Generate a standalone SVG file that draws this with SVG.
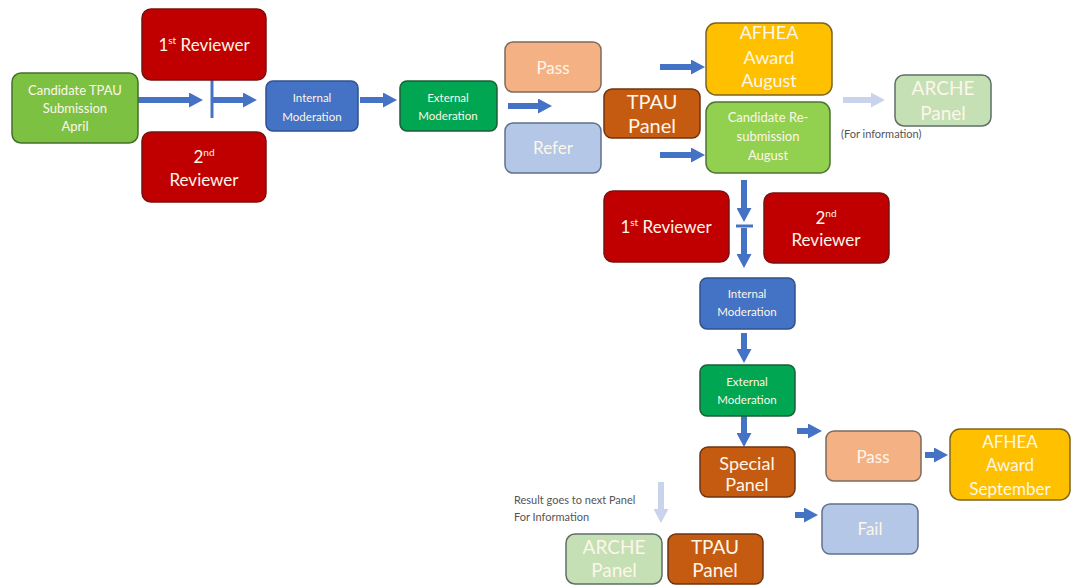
<svg xmlns="http://www.w3.org/2000/svg" width="1071" height="585" viewBox="0 0 1071 585">
<defs>
<style>
text{font-family:Lato,"Liberation Sans",sans-serif;text-anchor:middle;fill:#fdf6ea}
.b{stroke-width:1.5}
.green{fill:#7dc142;stroke:#456f2c}
.red{fill:#c00000;stroke:#7a1010}
.blue{fill:#4472c4;stroke:#2f528f}
.egreen{fill:#00a651;stroke:#1d5e36}
.salmon{fill:#f4b183;stroke:#7e6a5e}
.lblue{fill:#b4c7e7;stroke:#5f7090}
.orange{fill:#c55a11;stroke:#6e3410}
.yellow{fill:#ffc000;stroke:#7c6420}
.lgreen{fill:#92d050;stroke:#4d7430}
.arche{fill:#c5e0b4;stroke:#5f6e66}
.arr{stroke:#4472c4;stroke-width:6;fill:none;marker-end:url(#ah)}
.larr{stroke:#c9d4ec;stroke-width:6;fill:none;marker-end:url(#lah)}
.tick{stroke:#4472c4;stroke-width:3}
.note{fill:#555;text-anchor:start;font-size:11px}
</style>
<marker id="ah" markerUnits="userSpaceOnUse" markerWidth="14" markerHeight="15" refX="2" refY="7.5" orient="auto"><path d="M0,0 L14,7.5 L0,15 z" fill="#4472c4"/></marker>
<marker id="lah" markerUnits="userSpaceOnUse" markerWidth="14" markerHeight="15" refX="2" refY="7.5" orient="auto"><path d="M0,0 L14,7.5 L0,15 z" fill="#c9d4ec"/></marker>
</defs>
<rect width="1071" height="585" fill="#ffffff"/>

<g id="connectors">
<line class="arr" x1="138" y1="100" x2="191" y2="100"/>
<line class="tick" x1="212" y1="80" x2="212" y2="118"/>
<line class="arr" x1="213" y1="100" x2="245" y2="100"/>
<line class="arr" x1="360" y1="100" x2="385" y2="100"/>
<line class="arr" x1="508" y1="106" x2="540" y2="106"/>
<line class="arr" x1="660" y1="67" x2="693" y2="67"/>
<line class="arr" x1="660" y1="155" x2="693" y2="155"/>
<line class="larr" x1="843" y1="100" x2="873" y2="100"/>
<line class="arr" x1="744" y1="180" x2="744" y2="210"/>
<line class="tick" x1="736" y1="226" x2="753" y2="226"/>
<line class="arr" x1="744" y1="228" x2="744" y2="256"/>
<line class="arr" x1="744" y1="333" x2="744" y2="351"/>
<line class="arr" x1="744" y1="416" x2="744" y2="435"/>
<line class="larr" x1="661" y1="482" x2="661" y2="511"/>
<line class="arr" x1="797" y1="431" x2="810" y2="431"/>
<line class="arr" x1="925" y1="455" x2="936" y2="455"/>
<line class="arr" x1="795" y1="515" x2="806" y2="515"/>
</g>

<g id="candidate">
<rect class="green b" x="12" y="73" width="126" height="70" rx="9"/>
<text font-size="13"><tspan x="75" y="95">Candidate TPAU</tspan><tspan x="75" y="113">Submission</tspan><tspan x="75" y="131">April</tspan></text>
</g>
<g id="reviewer1">
<rect class="red b" x="142" y="9" width="124" height="71" rx="9"/>
<text font-size="17" x="204" y="51">1<tspan font-size="10" dy="-7">st</tspan><tspan dy="7"> Reviewer</tspan></text>
</g>
<g id="reviewer2">
<rect class="red b" x="142" y="132" width="124" height="70" rx="9"/>
<text font-size="17"><tspan x="204" y="163">2<tspan font-size="10" dy="-7">nd</tspan></tspan><tspan x="204" y="186">Reviewer</tspan></text>
</g>
<g id="internal1">
<rect class="blue b" x="266" y="81" width="92" height="50" rx="7"/>
<text font-size="11.5"><tspan x="312" y="102">Internal</tspan><tspan x="312" y="121">Moderation</tspan></text>
</g>
<g id="external1">
<rect class="egreen b" x="400" y="81" width="97" height="50" rx="7"/>
<text font-size="11.5"><tspan x="448" y="102">External</tspan><tspan x="448" y="120">Moderation</tspan></text>
</g>
<g id="pass1">
<rect class="salmon b" x="505" y="42" width="96" height="50" rx="8"/>
<text font-size="17" x="553" y="74">Pass</text>
</g>
<g id="refer">
<rect class="lblue b" x="505" y="123" width="96" height="50" rx="8"/>
<text font-size="17" x="553" y="154">Refer</text>
</g>
<g id="tpau1">
<rect class="orange b" x="604" y="89" width="96" height="49" rx="8"/>
<text font-size="20"><tspan x="652" y="109">TPAU</tspan><tspan x="652" y="133">Panel</tspan></text>
</g>
<g id="afhea1">
<rect class="yellow b" x="706" y="23" width="126" height="72" rx="10"/>
<text font-size="18"><tspan x="769" y="39">AFHEA</tspan><tspan x="769" y="64">Award</tspan><tspan x="769" y="87">August</tspan></text>
</g>
<g id="resubmission">
<rect class="lgreen b" x="706" y="102" width="124" height="71" rx="10"/>
<text font-size="13"><tspan x="768" y="122">Candidate Re-</tspan><tspan x="768" y="141">submission</tspan><tspan x="768" y="160">August</tspan></text>
</g>
<g id="arche1">
<rect class="arche b" x="895" y="75" width="96" height="51" rx="9"/>
<text font-size="19"><tspan x="943" y="95">ARCHE</tspan><tspan x="943" y="120">Panel</tspan></text>
<text class="note" x="841" y="138">(For information)</text>
</g>
<g id="reviewer1b">
<rect class="red b" x="604" y="191" width="125" height="71" rx="9"/>
<text font-size="17" x="666" y="233">1<tspan font-size="10" dy="-7">st</tspan><tspan dy="7"> Reviewer</tspan></text>
</g>
<g id="reviewer2b">
<rect class="red b" x="764" y="193" width="125" height="70" rx="9"/>
<text font-size="17"><tspan x="826" y="224">2<tspan font-size="10" dy="-7">nd</tspan></tspan><tspan x="826" y="246">Reviewer</tspan></text>
</g>
<g id="internal2">
<rect class="blue b" x="700" y="278" width="95" height="51" rx="7"/>
<text font-size="11.5"><tspan x="747" y="298">Internal</tspan><tspan x="747" y="316">Moderation</tspan></text>
</g>
<g id="external2">
<rect class="egreen b" x="700" y="365" width="95" height="51" rx="7"/>
<text font-size="11.5"><tspan x="747" y="386">External</tspan><tspan x="747" y="404">Moderation</tspan></text>
</g>
<g id="special">
<rect class="orange b" x="700" y="447" width="95" height="50" rx="8"/>
<text font-size="18"><tspan x="747" y="470">Special</tspan><tspan x="747" y="491">Panel</tspan></text>
</g>
<g id="pass2">
<rect class="salmon b" x="826" y="431" width="95" height="50" rx="8"/>
<text font-size="17" x="873" y="463">Pass</text>
</g>
<g id="fail">
<rect class="lblue b" x="822" y="504" width="96" height="50" rx="8"/>
<text font-size="17" x="870" y="535">Fail</text>
</g>
<g id="afhea2">
<rect class="yellow b" x="950" y="429" width="120" height="71" rx="10"/>
<text font-size="17"><tspan x="1010" y="448">AFHEA</tspan><tspan x="1010" y="471">Award</tspan><tspan x="1010" y="495">September</tspan></text>
</g>
<g id="result-note">
<text class="note" x="514" y="504">Result goes to next Panel</text>
<text class="note" x="514" y="521">For Information</text>
</g>
<g id="arche2">
<rect class="arche b" x="566" y="534" width="96" height="50" rx="9"/>
<text font-size="19"><tspan x="614" y="554">ARCHE</tspan><tspan x="614" y="577">Panel</tspan></text>
</g>
<g id="tpau2">
<rect class="orange b" x="668" y="534" width="95" height="50" rx="8"/>
<text font-size="19"><tspan x="715" y="554">TPAU</tspan><tspan x="715" y="577">Panel</tspan></text>
</g>
</svg>
